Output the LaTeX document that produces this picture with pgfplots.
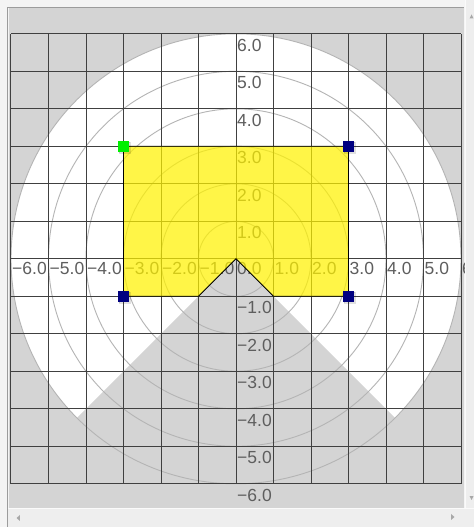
\documentclass[border=0pt]{standalone}
\usepackage{pgfplots}
\pgfplotsset{compat=1.18}
\usepackage{fontspec}
\setmainfont{Liberation Sans}
\definecolor{panel}{HTML}{D4D4D4}
\definecolor{outer}{HTML}{F4F4F4}
\definecolor{sbar}{HTML}{EEEEEE}
\definecolor{hilite}{HTML}{FAFAFA}
\definecolor{bordr}{HTML}{9C9C9C}
\definecolor{gridc}{HTML}{404040}
\definecolor{circc}{HTML}{B4B4B4}
\definecolor{labc}{HTML}{5E5E5E}
\definecolor{arrc}{HTML}{A8A8A8}
\definecolor{mnavy}{HTML}{000080}
\definecolor{mgreen}{HTML}{00F000}
\newcommand\px[2]{(axis cs:{(#1-236)/37.5},{(258.8-#2)/37.5})}
\newcommand\lab{\fontsize{17.5}{20}\selectfont}
\begin{document}
\begin{tikzpicture}
\begin{axis}[scale only axis, width=474pt, height=527pt,
  xmin=-6.293333, xmax=6.346667, ymin=-7.152, ymax=6.901333,
  axis lines=none, ticks=none, clip=true]
% widget background
\fill[outer] \px{0}{0} rectangle \px{474}{527};
\fill[sbar] \px{464.5}{0} rectangle \px{474}{508};
\fill[sbar] \px{8}{508.5} rectangle \px{474}{527};
\fill[panel] \px{8.5}{8.5} rectangle \px{464}{508};
\draw[bordr, line width=1pt] \px{7.5}{527} -- \px{7.5}{7.5} -- \px{464}{7.5};
\draw[hilite, line width=0.8pt] \px{8}{508.5} -- \px{474}{508.5};
\draw[hilite, line width=0.8pt] \px{465}{0} -- \px{465}{508};
% scroll arrows
\fill[arrc] \px{469.5}{18.5} -- \px{473.5}{18.5} -- \px{471.5}{14.5} -- cycle;
\fill[arrc] \px{469.5}{496} -- \px{473.5}{496} -- \px{471.5}{500} -- cycle;
\fill[arrc] \px{20}{515} -- \px{20}{521} -- \px{16.5}{518} -- cycle;
\fill[arrc] \px{451}{514} -- \px{451}{520} -- \px{454.5}{517} -- cycle;
% field of view: white disk minus gray wedge
\fill[white] (axis cs:0,0) circle[radius=225pt];
\fill[panel] (axis cs:0,0) -- (axis cs:-6,-6) -- (axis cs:6,-6) -- cycle;
% range circles
\pgfplotsinvokeforeach{1,...,6}{
  \draw[circc, line width=0.9pt] (axis cs:0,0) circle[radius=#1*37.5pt];
}
% grid
\pgfplotsinvokeforeach{-6,...,6}{
  \draw[gridc, line width=1pt] (axis cs:#1,-6) -- (axis cs:#1,6);
  \draw[gridc, line width=1pt] (axis cs:-6,#1) -- (axis cs:6,#1);
}
% labels
\begin{scope}
\clip \px{8.5}{8.5} rectangle \px{464}{508};
\begin{scope}[every node/.style={labc, anchor=base west, inner sep=0pt, font=\lab}]
\node[xshift=1pt, yshift=-16pt] at (axis cs:-6,0) {−6.0};
\node[xshift=1pt, yshift=-16pt] at (axis cs:-5,0) {−5.0};
\node[xshift=1pt, yshift=-16pt] at (axis cs:-4,0) {−4.0};
\node[xshift=1pt, yshift=-16pt] at (axis cs:-3,0) {−3.0};
\node[xshift=1pt, yshift=-16pt] at (axis cs:-2,0) {−2.0};
\node[xshift=1pt, yshift=-16pt] at (axis cs:-1,0) {−1.0};
\node[xshift=1pt, yshift=-16pt] at (axis cs:0,0) {0.0};
\node[xshift=1pt, yshift=-16pt] at (axis cs:1,0) {1.0};
\node[xshift=1pt, yshift=-16pt] at (axis cs:2,0) {2.0};
\node[xshift=1pt, yshift=-16pt] at (axis cs:3,0) {3.0};
\node[xshift=1pt, yshift=-16pt] at (axis cs:4,0) {4.0};
\node[xshift=1pt, yshift=-16pt] at (axis cs:5,0) {5.0};
\node[xshift=1pt, yshift=-16pt] at (axis cs:6,0) {6.0};
\node[xshift=1pt, yshift=-17.5pt] at (axis cs:0,6) {6.0};
\node[xshift=1pt, yshift=-17.5pt] at (axis cs:0,5) {5.0};
\node[xshift=1pt, yshift=-17.5pt] at (axis cs:0,4) {4.0};
\node[xshift=1pt, yshift=-17.5pt] at (axis cs:0,3) {3.0};
\node[xshift=1pt, yshift=-17.5pt] at (axis cs:0,2) {2.0};
\node[xshift=1pt, yshift=-17.5pt] at (axis cs:0,1) {1.0};
\node[xshift=1pt, yshift=-17.5pt] at (axis cs:0,-1) {−1.0};
\node[xshift=1pt, yshift=-17.5pt] at (axis cs:0,-2) {−2.0};
\node[xshift=1pt, yshift=-17.5pt] at (axis cs:0,-3) {−3.0};
\node[xshift=1pt, yshift=-17.5pt] at (axis cs:0,-4) {−4.0};
\node[xshift=1pt, yshift=-17.5pt] at (axis cs:0,-5) {−5.0};
\node[xshift=1pt, yshift=-17.5pt] at (axis cs:0,-6) {−6.0};
\end{scope}
\end{scope}
% polygon
\addplot[fill=yellow, fill opacity=0.72, draw=black, line width=0.8pt]
  coordinates {(-3,3) (3,3) (3,-1) (1,-1) (0,0) (-1,-1) (-3,-1)} -- cycle;
% vertex markers (with soft shadow)
\addplot[only marks, mark=square*, mark size=5.5pt,
  mark options={draw=none, fill=black, opacity=0.12, xshift=1.2pt, yshift=-1.2pt}]
  coordinates {(-3,3) (3,3) (3,-1) (-3,-1)};
\addplot[only marks, mark=square*, mark size=5pt,
  mark options={draw=mnavy, fill=mnavy}]
  coordinates {(3,3) (3,-1) (-3,-1)};
\addplot[only marks, mark=square*, mark size=5pt,
  mark options={draw=mgreen, fill=mgreen}]
  coordinates {(-3,3)};
\end{axis}
\end{tikzpicture}
\end{document}
